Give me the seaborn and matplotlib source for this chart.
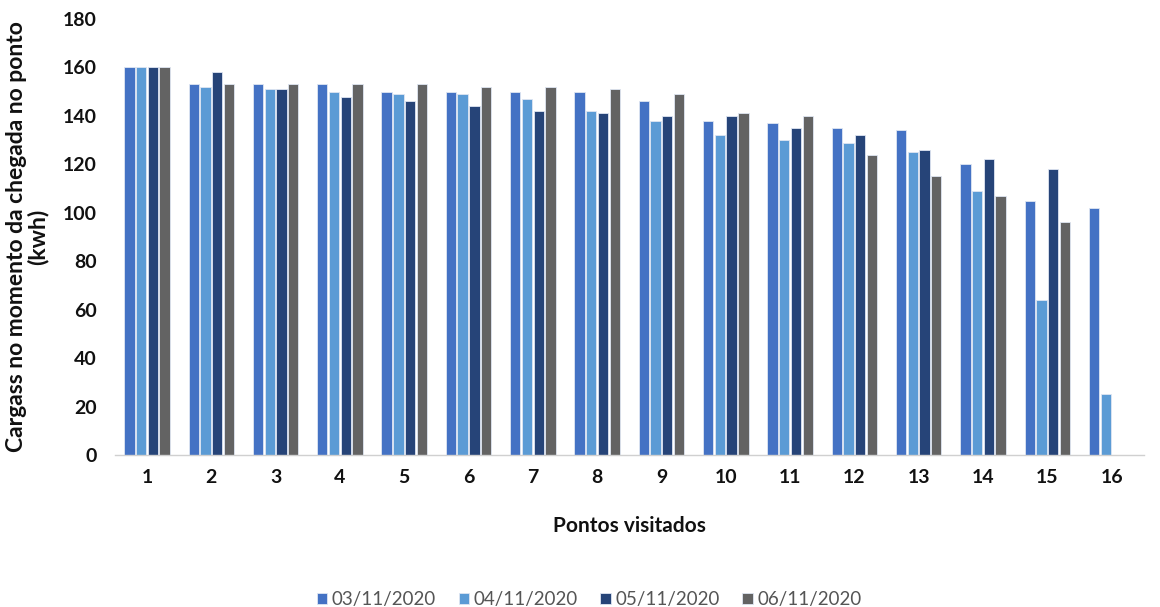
import numpy as np
import pandas as pd
import matplotlib
matplotlib.use("Agg")
import matplotlib.pyplot as plt
import seaborn as sns

# Charge (kWh) on arrival at each visited point, per day
pontos = [str(i) for i in range(1, 17)]
dias = ["03/11/2020", "04/11/2020", "05/11/2020", "06/11/2020"]
carga_03 = [160, 153, 153, 153, 150, 150, 150, 150, 146, 138, 137, 135, 134, 120, 105, 102]
carga_04 = [160, 152, 151, 150, 149, 149, 147, 142, 138, 132, 130, 129, 125, 109, 64, 25]
carga_05 = [160, 158, 151, 148, 146, 144, 142, 141, 140, 140, 135, 132, 126, 122, 118, np.nan]
carga_06 = [160, 153, 153, 153, 153, 152, 152, 151, 149, 141, 140, 124, 115, 107, 96, np.nan]
cores = ["#4472C4", "#5B9BD5", "#264478", "#636363"]

series = [carga_03, carga_04, carga_05, carga_06]
df = pd.DataFrame({
    "Ponto": pontos * len(dias),
    "Dia": np.repeat(dias, len(pontos)),
    "Carga": np.concatenate([np.array(s, dtype=float) for s in series]),
})

sns.set_theme(style="white")
plt.rcParams["font.family"] = ["Lato", "DejaVu Sans"]

fig = plt.figure(figsize=(11.6, 6.07), dpi=100)
ax = fig.add_axes([0.099, 0.2504, 0.887, 0.7183])

sns.barplot(data=df, x="Ponto", y="Carga", hue="Dia", order=pontos,
            hue_order=dias, palette=cores, saturation=1, width=0.73, gap=0.12,
            edgecolor="#dfe6f2", linewidth=0.6, errorbar=None, ax=ax)

ax.set_ylim(0, 180)
ax.set_yticks(range(0, 181, 20))
ax.set_xlim(-0.5, len(pontos) - 0.5)
for lab in ax.get_xticklabels() + ax.get_yticklabels():
    lab.set_fontweight("bold")
    lab.set_fontsize(14)
    lab.set_color("#111111")
ax.tick_params(axis="x", length=0, pad=10)
ax.tick_params(axis="y", length=0, pad=13)

for s in ["top", "right", "left"]:
    ax.spines[s].set_visible(False)
ax.spines["bottom"].set_color("#d0d0d0")
ax.spines["bottom"].set_linewidth(1.0)

ax.set_xlabel("Pontos visitados", fontsize=15, fontweight="bold",
              color="#111111", labelpad=22)
ax.set_ylabel("Cargass no momento da chegada no ponto\n(kwh)", fontsize=16.5,
              fontweight="bold", color="#111111", labelpad=10, linespacing=1.0)

handles, labels = ax.get_legend_handles_labels()
ax.legend_.remove()
fig.legend(handles, labels, loc="lower center", bbox_to_anchor=(0.508, -0.03),
           ncol=4, frameon=False, fontsize=13.5, handlelength=0.55,
           handleheight=0.55, handletextpad=0.25, columnspacing=1.2,
           labelcolor="#555555")

fig.savefig("out.png", dpi=100, facecolor="white")
